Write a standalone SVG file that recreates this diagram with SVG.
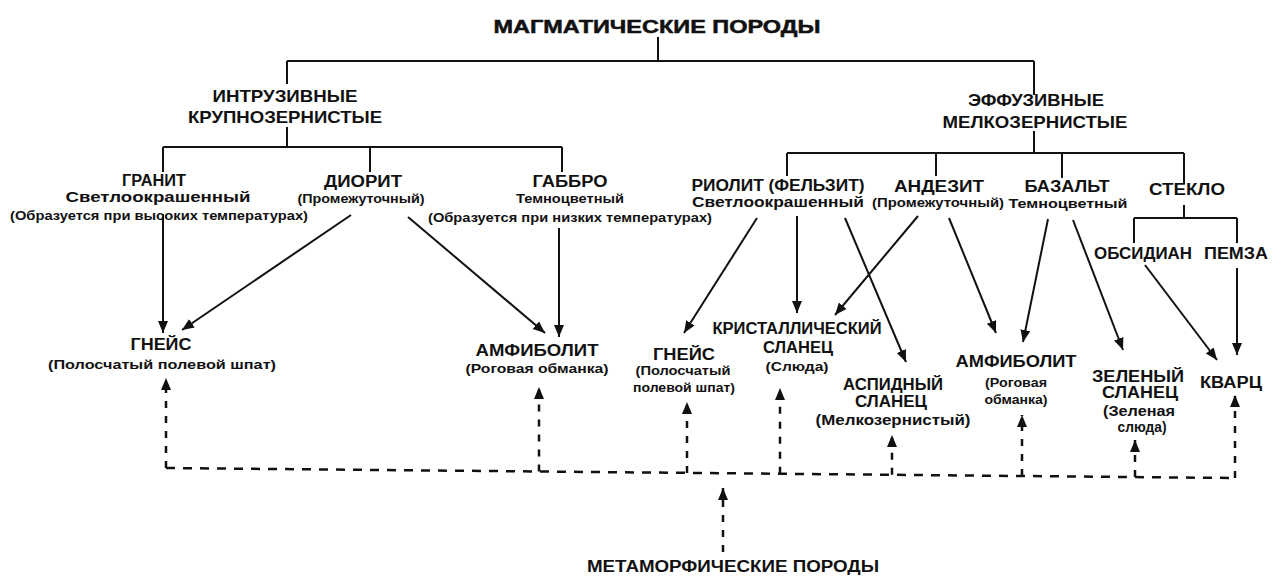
<svg xmlns="http://www.w3.org/2000/svg" width="1275" height="579" viewBox="0 0 1275 579">
<defs>
<style>
text{font-family:"Liberation Sans",Arial,sans-serif;font-weight:bold;text-anchor:middle;fill:#111}
.t{font-size:18px;stroke:#111;stroke-width:0.5}
.h{font-size:17px}
.n{font-size:16px}
.s{font-size:14px}
.x{font-size:13px}
.xs{font-size:12px}
.ln{stroke:#111;stroke-width:2;fill:none}
.ar{stroke:#111;stroke-width:2;fill:none;marker-end:url(#ah)}
.dv{stroke:#111;stroke-width:2.5;fill:none;stroke-dasharray:7 8;marker-end:url(#ah)}
.dh{stroke:#111;stroke-width:2.5;fill:none;stroke-dasharray:9 8}
</style>
<marker id="ah" markerUnits="userSpaceOnUse" markerWidth="14" markerHeight="12" refX="12" refY="5" orient="auto">
<path d="M0,0 L12,5 L0,10 Z" fill="#111"/>
</marker>
</defs>
<rect width="1275" height="579" fill="#fff"/>

<g id="connectors">
<path class="ln" d="M658,37 V61 M287,61 H1034 M287,61 V84 M1034,61 V95"/>
<path class="ln" d="M287,127 V147 M163,147 H562 M163,147 V172 M370,147 V172 M562,147 V172"/>
<path class="ln" d="M1034,131 V153 M787,153 H1184 M787,153 V176 M936,153 V176 M1062,153 V178 M1184,153 V184 M1184,205 V218 M1134,218 H1237 M1134,218 V243 M1237,218 V243"/>
<line class="ar" x1="163" y1="214" x2="163" y2="333"/>
<line class="ar" x1="351" y1="215" x2="182" y2="330"/>
<line class="ar" x1="408" y1="217" x2="545" y2="333"/>
<line class="ar" x1="559" y1="228" x2="559" y2="337"/>
<line class="ar" x1="757" y1="218" x2="684" y2="333"/>
<line class="ar" x1="797" y1="216" x2="797" y2="313"/>
<line class="ar" x1="845" y1="218" x2="906" y2="362"/>
<line class="ar" x1="918" y1="216" x2="835" y2="315"/>
<line class="ar" x1="949" y1="218" x2="996" y2="333"/>
<line class="ar" x1="1048" y1="219" x2="1023" y2="342"/>
<line class="ar" x1="1073" y1="220" x2="1123" y2="350"/>
<line class="ar" x1="1145" y1="265" x2="1217" y2="360"/>
<line class="ar" x1="1237" y1="268" x2="1237" y2="355"/>
<line class="dh" x1="166" y1="468" x2="1235" y2="478"/>
<line class="dv" x1="166" y1="468" x2="166" y2="378"/>
<line class="dv" x1="539" y1="471.5" x2="539" y2="387"/>
<line class="dv" x1="687" y1="473" x2="687" y2="402"/>
<line class="dv" x1="780" y1="473.7" x2="780" y2="388"/>
<line class="dv" x1="892" y1="474.8" x2="892" y2="435"/>
<line class="dv" x1="1022" y1="476" x2="1022" y2="415"/>
<line class="dv" x1="1135" y1="477" x2="1135" y2="440"/>
<line class="dv" x1="1235" y1="478" x2="1235" y2="395"/>
<line class="dv" x1="723" y1="552" x2="723" y2="488"/>
</g>

<g id="title"><text class="t" x="657" y="33" textLength="327" lengthAdjust="spacingAndGlyphs">МАГМАТИЧЕСКИЕ ПОРОДЫ</text></g>
<g id="intrusive">
<text class="h" x="285" y="102" textLength="145" lengthAdjust="spacingAndGlyphs">ИНТРУЗИВНЫЕ</text>
<text class="h" x="285" y="123" textLength="194" lengthAdjust="spacingAndGlyphs">КРУПНОЗЕРНИСТЫЕ</text>
</g>
<g id="effusive">
<text class="h" x="1036" y="106" textLength="136" lengthAdjust="spacingAndGlyphs">ЭФФУЗИВНЫЕ</text>
<text class="h" x="1035" y="128" textLength="185" lengthAdjust="spacingAndGlyphs">МЕЛКОЗЕРНИСТЫЕ</text>
</g>
<g id="granite">
<text class="n" x="154" y="186" textLength="64" lengthAdjust="spacingAndGlyphs">ГРАНИТ</text>
<text class="s" x="158" y="202" textLength="185" lengthAdjust="spacingAndGlyphs">Светлоокрашенный</text>
<text class="x" x="159" y="220" textLength="298" lengthAdjust="spacingAndGlyphs">(Образуется при высоких температурах)</text>
</g>
<g id="diorite">
<text class="n" x="363" y="187" textLength="78" lengthAdjust="spacingAndGlyphs">ДИОРИТ</text>
<text class="x" x="361" y="203" textLength="127" lengthAdjust="spacingAndGlyphs">(Промежуточный)</text>
</g>
<g id="gabbro">
<text class="n" x="570" y="187" textLength="75" lengthAdjust="spacingAndGlyphs">ГАББРО</text>
<text class="x" x="570" y="203" textLength="108" lengthAdjust="spacingAndGlyphs">Темноцветный</text>
<text class="x" x="570" y="222" textLength="284" lengthAdjust="spacingAndGlyphs">(Образуется при низких температурах)</text>
</g>
<g id="rhyolite">
<text class="n" x="778" y="191" textLength="173" lengthAdjust="spacingAndGlyphs">РИОЛИТ (ФЕЛЬЗИТ)</text>
<text class="s" x="778" y="207" textLength="172" lengthAdjust="spacingAndGlyphs">Светлоокрашенный</text>
</g>
<g id="andesite">
<text class="n" x="939" y="192" textLength="90" lengthAdjust="spacingAndGlyphs">АНДЕЗИТ</text>
<text class="x" x="938" y="207" textLength="132" lengthAdjust="spacingAndGlyphs">(Промежуточный)</text>
</g>
<g id="basalt">
<text class="n" x="1067" y="192" textLength="85" lengthAdjust="spacingAndGlyphs">БАЗАЛЬТ</text>
<text class="x" x="1068" y="208" textLength="119" lengthAdjust="spacingAndGlyphs">Темноцветный</text>
</g>
<g id="glass"><text class="n" x="1187" y="195" textLength="76" lengthAdjust="spacingAndGlyphs">СТЕКЛО</text></g>
<g id="obsidian"><text class="n" x="1143" y="259" textLength="98" lengthAdjust="spacingAndGlyphs">ОБСИДИАН</text></g>
<g id="pumice"><text class="n" x="1236" y="259" textLength="64" lengthAdjust="spacingAndGlyphs">ПЕМЗА</text></g>
<g id="gneiss1">
<text class="n" x="161" y="350" textLength="61" lengthAdjust="spacingAndGlyphs">ГНЕЙС</text>
<text class="x" x="162" y="369" textLength="228" lengthAdjust="spacingAndGlyphs">(Полосчатый полевой шпат)</text>
</g>
<g id="amphibolite1">
<text class="n" x="537" y="356" textLength="123" lengthAdjust="spacingAndGlyphs">АМФИБОЛИТ</text>
<text class="x" x="537" y="373" textLength="143" lengthAdjust="spacingAndGlyphs">(Роговая обманка)</text>
</g>
<g id="gneiss2">
<text class="n" x="684" y="360" textLength="62" lengthAdjust="spacingAndGlyphs">ГНЕЙС</text>
<text class="xs" x="683" y="375" textLength="95" lengthAdjust="spacingAndGlyphs">(Полосчатый</text>
<text class="xs" x="684" y="392" textLength="102" lengthAdjust="spacingAndGlyphs">полевой шпат)</text>
</g>
<g id="schist">
<text class="n" x="797" y="334" textLength="169" lengthAdjust="spacingAndGlyphs">КРИСТАЛЛИЧЕСКИЙ</text>
<text class="n" x="798" y="353" textLength="70" lengthAdjust="spacingAndGlyphs">СЛАНЕЦ</text>
<text class="x" x="797" y="371" textLength="63" lengthAdjust="spacingAndGlyphs">(Слюда)</text>
</g>
<g id="slate">
<text class="n" x="893" y="390" textLength="100" lengthAdjust="spacingAndGlyphs">АСПИДНЫЙ</text>
<text class="n" x="891" y="407" textLength="72" lengthAdjust="spacingAndGlyphs">СЛАНЕЦ</text>
<text class="s" x="893" y="425" textLength="155" lengthAdjust="spacingAndGlyphs">(Мелкозернистый)</text>
</g>
<g id="amphibolite2">
<text class="n" x="1016" y="367" textLength="121" lengthAdjust="spacingAndGlyphs">АМФИБОЛИТ</text>
<text class="xs" x="1016" y="387" textLength="62" lengthAdjust="spacingAndGlyphs">(Роговая</text>
<text class="xs" x="1016" y="404" textLength="63" lengthAdjust="spacingAndGlyphs">обманка)</text>
</g>
<g id="greenschist">
<text class="n" x="1138" y="382" textLength="92" lengthAdjust="spacingAndGlyphs">ЗЕЛЕНЫЙ</text>
<text class="n" x="1140" y="398" textLength="76" lengthAdjust="spacingAndGlyphs">СЛАНЕЦ</text>
<text class="s" x="1139" y="416" textLength="72" lengthAdjust="spacingAndGlyphs">(Зеленая</text>
<text class="s" x="1142" y="432" textLength="49" lengthAdjust="spacingAndGlyphs">слюда)</text>
</g>
<g id="quartz"><text class="n" x="1231" y="388" textLength="62" lengthAdjust="spacingAndGlyphs">КВАРЦ</text></g>
<g id="metamorphic"><text class="n" x="733" y="572" textLength="292" lengthAdjust="spacingAndGlyphs">МЕТАМОРФИЧЕСКИЕ ПОРОДЫ</text></g>
</svg>
